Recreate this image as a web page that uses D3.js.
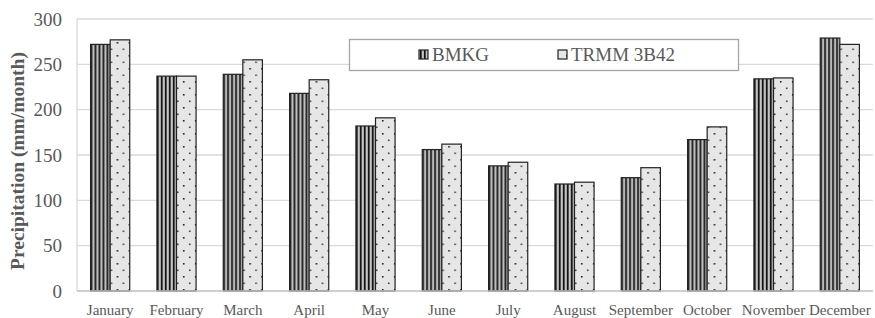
<!DOCTYPE html>
<html>
<head>
<meta charset="utf-8">
<script src="https://cdn.jsdelivr.net/npm/d3@7"></script>
<style>
  body { margin: 0; background: #fff; }
  svg text { font-family: "Liberation Serif", "DejaVu Serif", serif; }
</style>
</head>
<body>
<script>
var months = ["January", "February", "March", "April", "May", "June", "July",
  "August", "September", "October", "November", "December"];
var bmkg = [272, 237, 239, 218, 182, 156, 138, 118, 125, 167, 234, 279];
var trmm = [277, 237, 255, 233, 191, 162, 142, 120, 136, 181, 235, 272];
var yTicks = [0, 50, 100, 150, 200, 250, 300];
var seriesNames = ["BMKG", "TRMM 3B42"];

var width = 875, height = 318;
var plotLeft = 77, plotRight = 873, plotTop = 19, plotBottom = 291;

var svg = d3.select("body").append("svg")
  .attr("width", width)
  .attr("height", height);

var defs = svg.append("defs");

// vertical stripe pattern for BMKG
var stripe = defs.append("pattern")
  .attr("id", "stripe")
  .attr("patternUnits", "userSpaceOnUse")
  .attr("width", 4)
  .attr("height", 4);
stripe.append("rect").attr("width", 4).attr("height", 4).attr("fill", "#a0a0a0");
stripe.append("rect").attr("x", 0).attr("width", 1.6).attr("height", 4).attr("fill", "#111");
stripe.append("rect").attr("x", 2.4).attr("width", 0.9).attr("height", 4).attr("fill", "#e0e0e0");

// dotted pattern for TRMM
var dots = defs.append("pattern")
  .attr("id", "dots")
  .attr("patternUnits", "userSpaceOnUse")
  .attr("width", 12)
  .attr("height", 13);
dots.append("rect").attr("width", 12).attr("height", 13).attr("fill", "#e6e6e6");
dots.append("rect").attr("x", 2).attr("y", 3).attr("width", 1.6).attr("height", 1.6).attr("fill", "#222");
dots.append("rect").attr("x", 8).attr("y", 9.5).attr("width", 1.6).attr("height", 1.6).attr("fill", "#444");

var x = d3.scaleBand()
  .domain(months)
  .range([plotLeft, plotRight])
  .paddingInner(0.41)
  .paddingOuter(0.205);

var xSub = d3.scaleBand()
  .domain([0, 1])
  .range([0, x.bandwidth()]);

var y = d3.scaleLinear()
  .domain([0, 300])
  .range([plotBottom, plotTop]);

// gridlines
svg.append("g")
  .selectAll("line")
  .data(yTicks.slice(1))
  .enter()
  .append("line")
  .attr("x1", plotLeft)
  .attr("x2", plotRight)
  .attr("y1", function(d) { return y(d); })
  .attr("y2", function(d) { return y(d); })
  .attr("stroke", "#d9d9d9")
  .attr("stroke-width", 1.3);

svg.append("line")
  .attr("x1", plotLeft).attr("x2", plotLeft)
  .attr("y1", plotTop).attr("y2", plotBottom)
  .attr("stroke", "#d9d9d9")
  .attr("stroke-width", 1.3);

// bars
var groups = svg.append("g")
  .selectAll("g")
  .data(months)
  .enter()
  .append("g")
  .attr("transform", function(d) { return "translate(" + x(d) + ",0)"; });

groups.append("rect")
  .attr("x", xSub(0))
  .attr("y", function(d, i) { return y(bmkg[i]); })
  .attr("width", xSub.bandwidth())
  .attr("height", function(d, i) { return plotBottom - y(bmkg[i]); })
  .attr("fill", "url(#stripe)")
  .attr("stroke", "#222")
  .attr("stroke-width", 1.2);

groups.append("rect")
  .attr("x", xSub(1))
  .attr("y", function(d, i) { return y(trmm[i]); })
  .attr("width", xSub.bandwidth())
  .attr("height", function(d, i) { return plotBottom - y(trmm[i]); })
  .attr("fill", "url(#dots)")
  .attr("stroke", "#222")
  .attr("stroke-width", 1.2);

// baseline
svg.append("line")
  .attr("x1", plotLeft).attr("x2", plotRight)
  .attr("y1", plotBottom).attr("y2", plotBottom)
  .attr("stroke", "#bfbfbf")
  .attr("stroke-width", 1.3);

// y axis labels
var yAxis = svg.append("g")
  .attr("transform", "translate(" + (plotLeft - 15) + ",0)")
  .call(d3.axisLeft(y).tickValues(yTicks).tickSize(0).tickPadding(0));
yAxis.select(".domain").remove();
yAxis.selectAll("text")
  .attr("font-size", 19)
  .attr("fill", "#595959");

// x axis labels
var xAxis = svg.append("g")
  .attr("transform", "translate(0," + plotBottom + ")")
  .call(d3.axisBottom(x).tickSize(0).tickPadding(13));
xAxis.select(".domain").remove();
xAxis.selectAll("text")
  .attr("font-size", 15)
  .attr("fill", "#595959");

// y title
svg.append("text")
  .attr("transform", "translate(23.5,161) rotate(-90)")
  .attr("text-anchor", "middle")
  .attr("font-size", 19.5)
  .attr("font-weight", "bold")
  .attr("fill", "#595959")
  .text("Precipitation (mm/month)");

// legend
var legend = svg.append("g");
legend.append("rect")
  .attr("x", 349.5).attr("y", 39.5)
  .attr("width", 389).attr("height", 31)
  .attr("fill", "#fff")
  .attr("stroke", "#a6a6a6")
  .attr("stroke-width", 1.3);

var legendX = [419, 558];
var legendFill = ["url(#stripe)", "url(#dots)"];
seriesNames.forEach(function(name, i) {
  legend.append("rect")
    .attr("x", legendX[i]).attr("y", 50)
    .attr("width", 9).attr("height", 9)
    .attr("fill", legendFill[i])
    .attr("stroke", "#222")
    .attr("stroke-width", 1.2);
  legend.append("text")
    .attr("x", legendX[i] + 13)
    .attr("y", 61)
    .attr("font-size", 19)
    .attr("fill", "#595959")
    .text(name);
});
</script>
</body>
</html>
